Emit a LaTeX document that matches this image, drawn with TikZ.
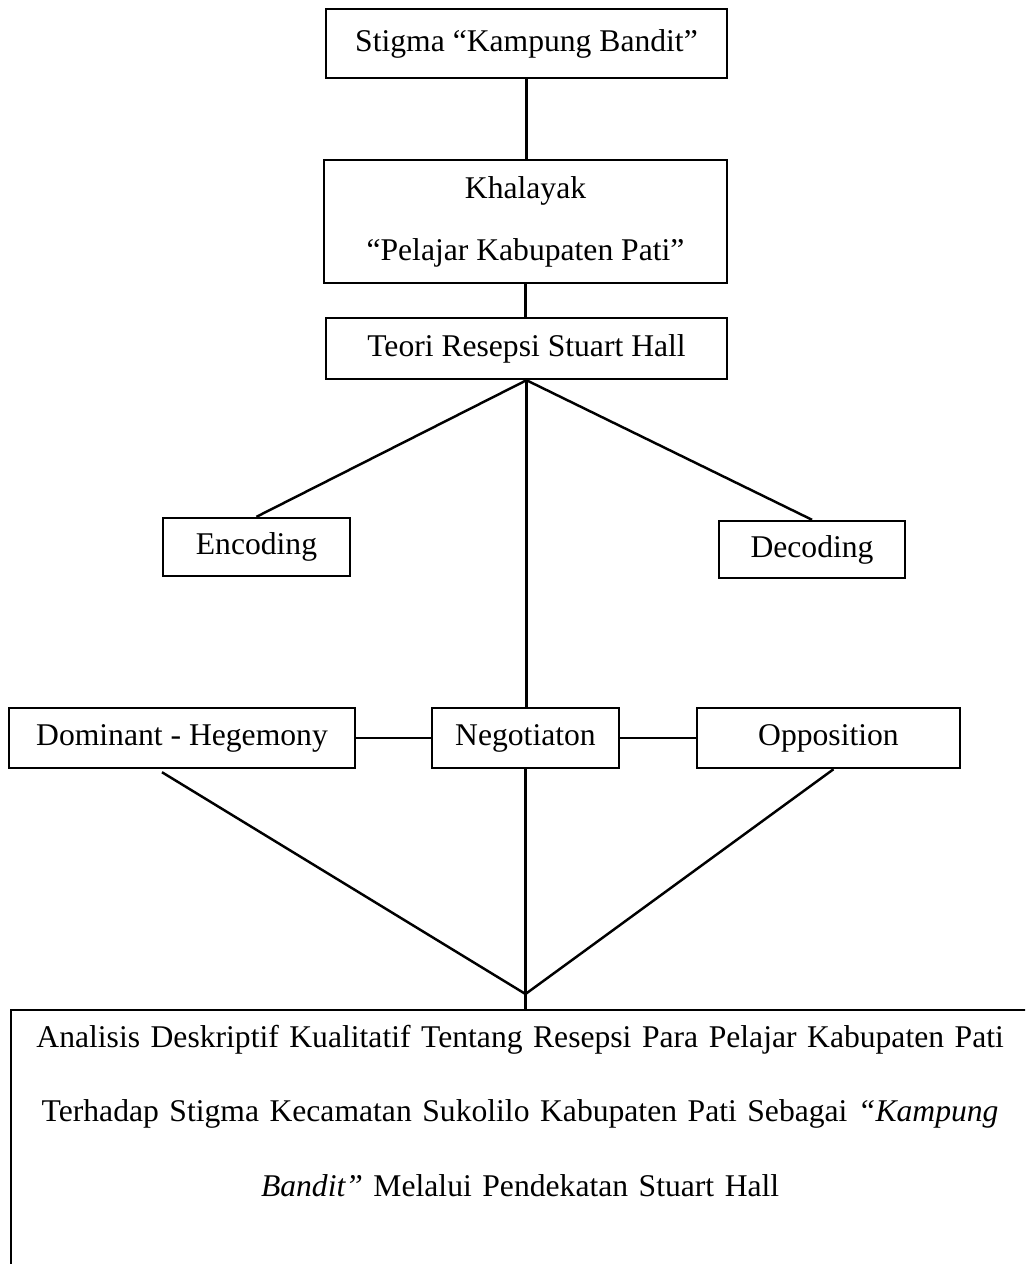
\documentclass[tikz,border=0pt]{standalone}
\usepackage{fontspec}
\setmainfont{Liberation Serif}
\usetikzlibrary{calc}

\begin{document}
\begin{tikzpicture}[
     x=0.02cm, y=-0.02cm, line width=1.4pt,
     kotak/.style={draw,line width=1.4pt,inner sep=0pt,font=\fontsize{18}{21.6}\selectfont}
   ]
   \path[use as bounding box] (0,0) rectangle (1025,1264);
   \clip (0,0) rectangle (1025,1264);
   % Upper chain.
   \node[kotak,minimum width=8.02cm,minimum height=1.38cm] (stigma) at (526.5,43.5) {Stigma “Kampung Bandit”};
   \node[kotak,minimum width=8.06cm,minimum height=2.46cm,align=center,font=\fontsize{18}{35.2}\selectfont] (khalayak) at (525.5,221.5) {Khalayak\\“Pelajar Kabupaten Pati”};
   \node[kotak,minimum width=8.02cm,minimum height=1.22cm] (teori) at (526.5,348.5) {Teori Resepsi Stuart Hall};
   \node[kotak,minimum width=3.74cm,minimum height=1.16cm] (enc) at (256.5,547) {Encoding};
   \node[kotak,minimum width=3.72cm,minimum height=1.14cm] (dec) at (812,549.5) {Decoding};
   % Reading positions.
   \node[kotak,minimum width=6.92cm,minimum height=1.2cm] (dom) at (182,738) {Dominant - Hegemony};
   \node[kotak,minimum width=3.74cm,minimum height=1.2cm] (neg) at (525.5,738) {Negotiaton};
   \node[kotak,minimum width=5.26cm,minimum height=1.2cm] (opp) at (828.5,738) {Opposition};
   % Conclusion box, running off the page.
   \node[kotak,anchor=north west,text width=20.36cm,align=center,inner ysep=8.75pt,
     text height=12.3pt,text depth=12cm,font=\fontsize{18}{42.5}\selectfont] (analisis) at (10,1009)
     {Analisis Deskriptif Kualitatif Tentang Resepsi Para Pelajar Kabupaten Pati\\
      Terhadap Stigma Kecamatan Sukolilo Kabupaten Pati Sebagai \textit{“Kampung}\\
      \textit{Bandit”} Melalui Pendekatan Stuart Hall};
   \coordinate (temu) at (525.5,994);
   % Connectors.
   \draw (stigma.south) -- (stigma.south |- khalayak.north);
   \draw (khalayak.south) -- (khalayak.south |- teori.north);
   \draw (teori.south) -- (enc.north);
   \draw (teori.south) -- (dec.north);
   \draw (teori.south) -- (teori.south |- neg.north);
   \draw (dom.east) -- (neg.west);
   \draw (neg.east) -- (opp.west);
   \draw ([xshift=-0.4cm,yshift=-0.06cm]dom.south) -- (temu);
   \draw ([xshift=0.1cm]opp.south) -- (temu);
   \draw (neg.south) -- (neg.south |- analisis.north);
 \end{tikzpicture}
\end{document}
